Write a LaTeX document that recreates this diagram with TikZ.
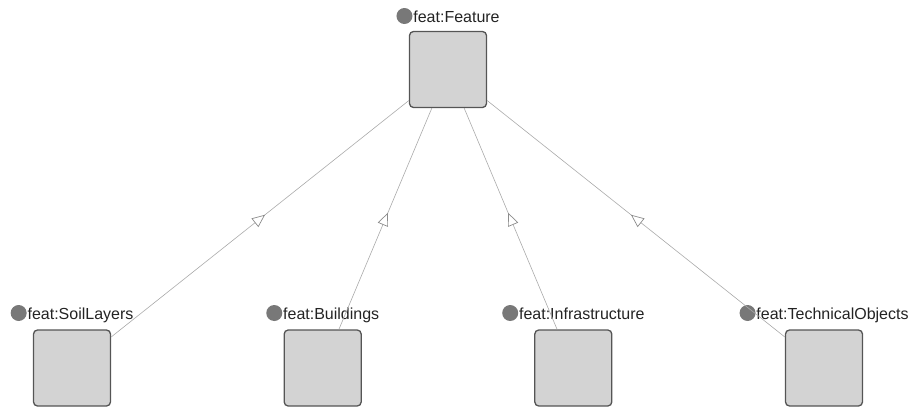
\documentclass[tikz,border=0pt]{standalone}
\usepackage{fontspec}
\setmainfont{Liberation Sans}
\usetikzlibrary{arrows.meta,decorations.markings}
\definecolor{boxfill}{RGB}{211,211,211}
\definecolor{boxdraw}{RGB}{85,85,85}
\definecolor{edgecol}{RGB}{170,170,170}
\definecolor{arrcol}{RGB}{140,140,140}
\definecolor{dotcol}{RGB}{120,120,120}
\definecolor{txtcol}{RGB}{35,35,35}
\tikzset{
  classbox/.style={draw=boxdraw, fill=boxfill, line width=1.3pt, rounded corners=4pt,
    minimum width=77pt, minimum height=76pt, inner sep=0pt},
  classlabel/.style={anchor=base, inner sep=0pt, text=txtcol, font=\fontsize{16pt}{18pt}\selectfont},
  classdot/.style={circle, fill=dotcol, minimum size=16pt, inner sep=0pt, anchor=east},
  subedge/.style={draw=edgecol, line width=0.6pt,
    postaction={decorate},
    decoration={markings, mark=at position 0.5 with {\arrow[xshift=6.5pt,arrcol,line width=0.7pt]{Triangle[open,length=13pt,width=11pt,fill=white]}}}}
}
\begin{document}
\begin{tikzpicture}[x=1pt,y=-1pt]
\useasboundingbox (0,0) rectangle (914,410);
% boxes
\node[classbox] (feature) at (448,69.5) {};
\node[classbox] (soil) at (72,368) {};
\node[classbox] (build) at (322.7,368) {};
\node[classbox] (infra) at (573.3,368) {};
\node[classbox] (tech) at (824,368) {};
% labels
\node[classlabel] (featuret) at (456.5,22.5) {feat:Feature};
\node[classdot] (featured) at ([xshift=-0.5pt,yshift=6.5pt]featuret.base west) {};
\node[classlabel] (soilt) at (80.5,319.5) {feat:SoilLayers};
\node[classdot] (soild) at ([xshift=-0.5pt,yshift=6.5pt]soilt.base west) {};
\node[classlabel] (buildt) at (331.2,319.5) {feat:Buildings};
\node[classdot] (buildd) at ([xshift=-0.5pt,yshift=6.5pt]buildt.base west) {};
\node[classlabel] (infrat) at (581.8,319.5) {feat:Infrastructure};
\node[classdot] (infrad) at ([xshift=-0.5pt,yshift=6.5pt]infrat.base west) {};
\node[classlabel] (techt) at (832.5,319.5) {feat:TechnicalObjects};
\node[classdot] (techd) at ([xshift=-0.5pt,yshift=6.5pt]techt.base west) {};
% edges
\path[subedge] (soil) -- (feature);
\path[subedge] (build) -- (feature);
\path[subedge] (infra) -- (feature);
\path[subedge] (tech) -- (feature);
\end{tikzpicture}
\end{document}
